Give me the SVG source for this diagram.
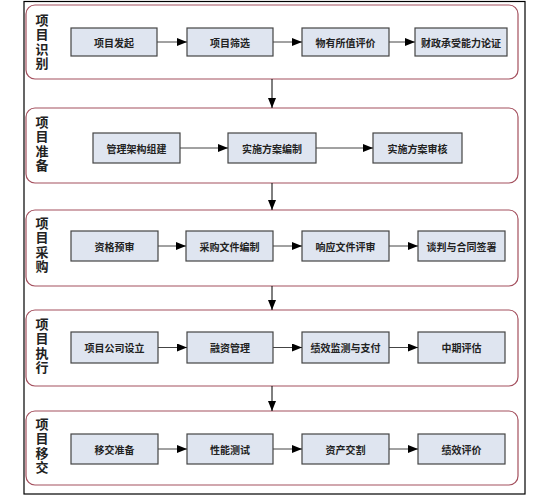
<svg xmlns="http://www.w3.org/2000/svg" width="548" height="499" viewBox="0 0 548 499">
<defs>
<marker id="ah" markerWidth="10" markerHeight="8" refX="10" refY="4" orient="auto" markerUnits="userSpaceOnUse">
<path d="M0,0 L10,4 L0,8 Z" fill="#000"/>
</marker>
<style>
.frame{fill:#fff;stroke:#000;stroke-width:1.2}
.sec{fill:#fff;stroke:#a4505e;stroke-width:1.2}
.box{fill:#dfe5f0;stroke:#444;stroke-width:1.2}
.bt{font-family:"Noto Sans CJK SC","Noto Sans",sans-serif;font-size:10px;font-weight:bold;fill:#222;text-anchor:middle;dominant-baseline:central}
.st{font-family:"Noto Sans CJK SC","Noto Sans",sans-serif;font-size:13px;font-weight:bold;fill:#222;writing-mode:vertical-rl;text-anchor:start;letter-spacing:1.5px}
.ln{stroke:#000;stroke-width:1;fill:none;marker-end:url(#ah)}
.ln2{stroke:#444;stroke-width:1;fill:none;marker-end:url(#ah)}
</style>
</defs>
<rect class="frame" x="24" y="1.5" width="501" height="492.5"/>

<g id="sec1">
<rect class="sec" x="26" y="5" width="492" height="74" rx="9"/>
<text class="st" x="42" y="13.5">项目识别</text>
</g>
<g id="sec2">
<rect class="sec" x="26" y="108" width="492" height="75" rx="9"/>
<text class="st" x="42" y="115.5">项目准备</text>
</g>
<g id="sec3">
<rect class="sec" x="26" y="210" width="492" height="76" rx="9"/>
<text class="st" x="42" y="216.5">项目采购</text>
</g>
<g id="sec4">
<rect class="sec" x="26" y="310" width="492" height="76" rx="9"/>
<text class="st" x="42" y="317.5">项目执行</text>
</g>
<g id="sec5">
<rect class="sec" x="26" y="411" width="492" height="74" rx="9"/>
<text class="st" x="42" y="417.5">项目移交</text>
</g>

<g id="n1"><rect class="box" x="71" y="28" width="86" height="28"/><text class="bt" x="114" y="42">项目发起</text></g>
<g id="n2"><rect class="box" x="187" y="28" width="86" height="28"/><text class="bt" x="230" y="42">项目筛选</text></g>
<g id="n3"><rect class="box" x="302" y="28" width="87" height="28"/><text class="bt" x="345.5" y="42">物有所值评价</text></g>
<g id="n4"><rect class="box" x="415" y="28" width="92" height="28"/><text class="bt" x="461" y="42">财政承受能力论证</text></g>

<g id="n5"><rect class="box" x="93" y="133" width="87" height="30"/><text class="bt" x="136.5" y="148">管理架构组建</text></g>
<g id="n6"><rect class="box" x="228" y="133" width="88" height="30"/><text class="bt" x="272" y="148">实施方案编制</text></g>
<g id="n7"><rect class="box" x="373" y="133" width="89" height="30"/><text class="bt" x="417.5" y="148">实施方案审核</text></g>

<g id="n8"><rect class="box" x="71" y="231" width="87" height="30"/><text class="bt" x="114.5" y="246">资格预审</text></g>
<g id="n9"><rect class="box" x="186" y="231" width="87" height="30"/><text class="bt" x="229.5" y="246">采购文件编制</text></g>
<g id="n10"><rect class="box" x="302" y="231" width="87" height="30"/><text class="bt" x="345.5" y="246">响应文件评审</text></g>
<g id="n11"><rect class="box" x="418" y="231" width="87" height="30"/><text class="bt" x="461.5" y="246">谈判与合同签署</text></g>

<g id="n12"><rect class="box" x="71" y="332" width="87" height="31"/><text class="bt" x="114.5" y="347.5">项目公司设立</text></g>
<g id="n13"><rect class="box" x="187" y="332" width="86" height="31"/><text class="bt" x="230" y="347.5">融资管理</text></g>
<g id="n14"><rect class="box" x="302" y="332" width="87" height="31"/><text class="bt" x="345.5" y="347.5">绩效监测与支付</text></g>
<g id="n15"><rect class="box" x="418" y="332" width="87" height="31"/><text class="bt" x="461.5" y="347.5">中期评估</text></g>

<g id="n16"><rect class="box" x="71" y="434" width="87" height="30"/><text class="bt" x="114.5" y="449">移交准备</text></g>
<g id="n17"><rect class="box" x="187" y="434" width="86" height="30"/><text class="bt" x="230" y="449">性能测试</text></g>
<g id="n18"><rect class="box" x="302" y="434" width="87" height="30"/><text class="bt" x="345.5" y="449">资产交割</text></g>
<g id="n19"><rect class="box" x="418" y="434" width="87" height="30"/><text class="bt" x="461.5" y="449">绩效评价</text></g>

<g id="connectors">
<path class="ln2" d="M157,42 H187"/>
<path class="ln2" d="M273,42 H302"/>
<path class="ln2" d="M389,42 H415"/>
<path class="ln2" d="M180,148 H228"/>
<path class="ln2" d="M316,148 H373"/>
<path class="ln2" d="M158,246 H186"/>
<path class="ln2" d="M273,246 H302"/>
<path class="ln2" d="M389,246 H418"/>
<path class="ln2" d="M158,347.5 H187"/>
<path class="ln2" d="M273,347.5 H302"/>
<path class="ln2" d="M389,347.5 H418"/>
<path class="ln2" d="M158,449 H187"/>
<path class="ln2" d="M273,449 H302"/>
<path class="ln2" d="M389,449 H418"/>
<path class="ln" d="M272,79 V108"/>
<path class="ln" d="M272,183 V210"/>
<path class="ln" d="M272,286 V310"/>
<path class="ln" d="M272,386 V411"/>
</g>
</svg>
